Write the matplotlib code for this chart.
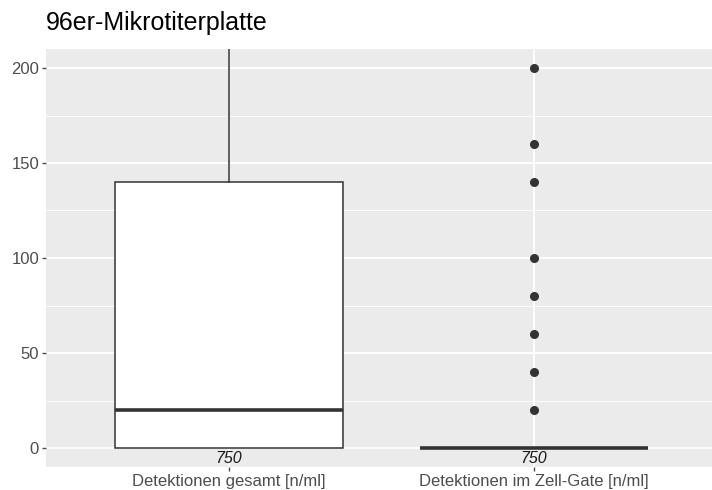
import matplotlib
matplotlib.use("Agg")
import matplotlib.pyplot as plt
from matplotlib.ticker import MultipleLocator

plt.rcParams["font.family"] = ["Liberation Sans", "DejaVu Sans"]

# Data
categories = ["Detektionen gesamt [n/ml]", "Detektionen im Zell-Gate [n/ml]"]
q1 = [0, 0]
median = [20, 0]
q3 = [140, 0]
whisker_lo = [0, 0]
whisker_hi = [350, 0]
outliers = [[], [20, 40, 60, 80, 100, 140, 160, 200]]
n_counts = [750, 750]

# ggplot-like colours
C_PANEL = "#EBEBEB"
C_DARK = "#333333"
C_TICK = "#4D4D4D"

fig = plt.figure(figsize=(7.12, 4.90), dpi=100)
ax = fig.add_axes([46 / 712, 23 / 490, 666 / 712, 418 / 490])
ax.set_facecolor(C_PANEL)

stats = []
for i, name in enumerate(categories):
    stats.append(dict(label=name, q1=q1[i], med=median[i], q3=q3[i],
                      whislo=whisker_lo[i], whishi=whisker_hi[i],
                      fliers=outliers[i]))

pos = list(range(1, len(categories) + 1))
ax.bxp(stats, positions=pos, widths=0.75, patch_artist=True,
       showcaps=False,
       boxprops=dict(facecolor="white", edgecolor=C_DARK, linewidth=1.1),
       medianprops=dict(color=C_DARK, linewidth=2.6, solid_capstyle="butt"),
       whiskerprops=dict(color=C_DARK, linewidth=1.1),
       flierprops=dict(marker="o", markerfacecolor=C_DARK,
                       markeredgecolor=C_DARK, markersize=5.5),
       zorder=3)

for p, n in zip(pos, n_counts):
    ax.text(p, -1.5, str(n), ha="center", va="top", fontsize=11.5,
            style="italic", color="#1A1A1A", zorder=4)

ax.set_xlim(0.4, 0.4 + 666 / 305)
ax.set_ylim(-10, 210)
ax.yaxis.set_major_locator(MultipleLocator(50))
ax.yaxis.set_minor_locator(MultipleLocator(25))
ax.set_xticks(pos)
ax.set_xticklabels(categories)

ax.grid(True, which="major", color="white", linewidth=1.3, zorder=0)
ax.grid(True, which="minor", axis="y", color="white", linewidth=0.6, zorder=0)
ax.set_axisbelow(True)
for s in ax.spines.values():
    s.set_visible(False)
ax.tick_params(axis="both", which="major", length=3, width=1.0,
               color=C_TICK, labelcolor=C_TICK, labelsize=12, pad=2)
ax.tick_params(axis="both", which="minor", length=0)

fig.text(46 / 712, 1 - 23 / 490, "96er-Mikrotiterplatte", fontsize=18,
         ha="left", va="center", color="black")

fig.savefig("out.png", dpi=100)
